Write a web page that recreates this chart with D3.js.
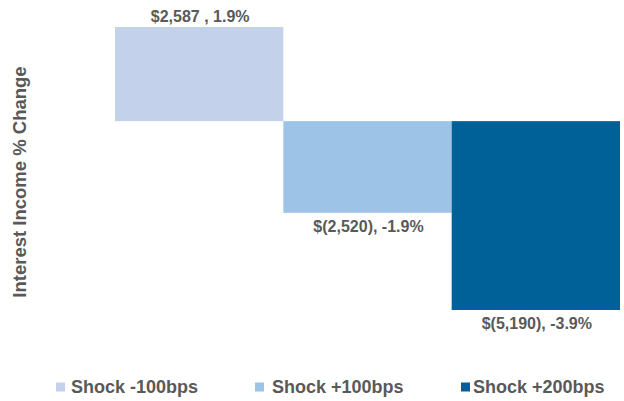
<!DOCTYPE html>
<html>
<head>
<meta charset="utf-8">
<script src="https://cdn.jsdelivr.net/npm/d3@7/dist/d3.min.js"></script>
<style>
  body { margin: 0; background: #fff; }
  svg { font-family: "Liberation Sans", Arial, sans-serif; }
</style>
</head>
<body>
<script>
var categories = ["Shock -100bps", "Shock +100bps", "Shock +200bps"];
var dollars = [2587, -2520, -5190];
var labels = ["$2,587 , 1.9%", "$(2,520), -1.9%", "$(5,190), -3.9%"];
var colors = ["#c4d1ea", "#9dc3e6", "#006098"];

var width = 624, height = 401;
var svg = d3.select("body").append("svg")
    .attr("width", width)
    .attr("height", height);

var x = d3.scaleBand()
    .domain(categories)
    .range([115, 620])
    .padding(0);

var y = d3.scaleLinear()
    .domain([-5190, 2587])
    .range([310, 27]);

var color = d3.scaleOrdinal()
    .domain(categories)
    .range(colors);

var data = categories.map(function(c, i) {
    return { cat: c, val: dollars[i], label: labels[i] };
});

svg.selectAll(".bar")
    .data(data)
  .enter().append("rect")
    .attr("class", "bar")
    .attr("x", function(d) { return x(d.cat); })
    .attr("width", x.bandwidth())
    .attr("y", function(d) { return y(Math.max(0, d.val)); })
    .attr("height", function(d) { return Math.abs(y(d.val) - y(0)); })
    .attr("fill", function(d) { return color(d.cat); });

svg.selectAll(".lbl")
    .data(data)
  .enter().append("text")
    .attr("class", "lbl")
    .attr("x", function(d) { return x(d.cat) + x.bandwidth() / 2 + 1; })
    .attr("y", function(d) { return d.val > 0 ? y(d.val) - 5 : y(d.val) + 19; })
    .attr("text-anchor", "middle")
    .attr("font-size", "16px")
    .attr("font-weight", "bold")
    .attr("fill", "#595959")
    .text(function(d) { return d.label; });

// y axis title
svg.append("text")
    .attr("transform", "translate(26,182) rotate(-90)")
    .attr("text-anchor", "middle")
    .attr("font-size", "18.5px")
    .attr("font-weight", "bold")
    .attr("fill", "#595959")
    .text("Interest Income % Change");

// legend
var legendX = [56, 255, 461];
var legendTextX = [71, 272, 473];
var legend = svg.selectAll(".legend")
    .data(categories)
  .enter().append("g")
    .attr("class", "legend")
    .attr("transform", function(d, i) { return "translate(" + legendX[i] + ",387)"; });

legend.append("rect")
    .attr("x", 0)
    .attr("y", -4.5)
    .attr("width", 9)
    .attr("height", 9)
    .attr("fill", color);

legend.append("text")
    .attr("x", function(d, i) { return legendTextX[i] - legendX[i]; })
    .attr("y", 0)
    .attr("dy", "0.35em")
    .attr("font-size", "18px")
    .attr("font-weight", "bold")
    .attr("fill", "#595959")
    .text(function(d) { return d; });
</script>
</body>
</html>
